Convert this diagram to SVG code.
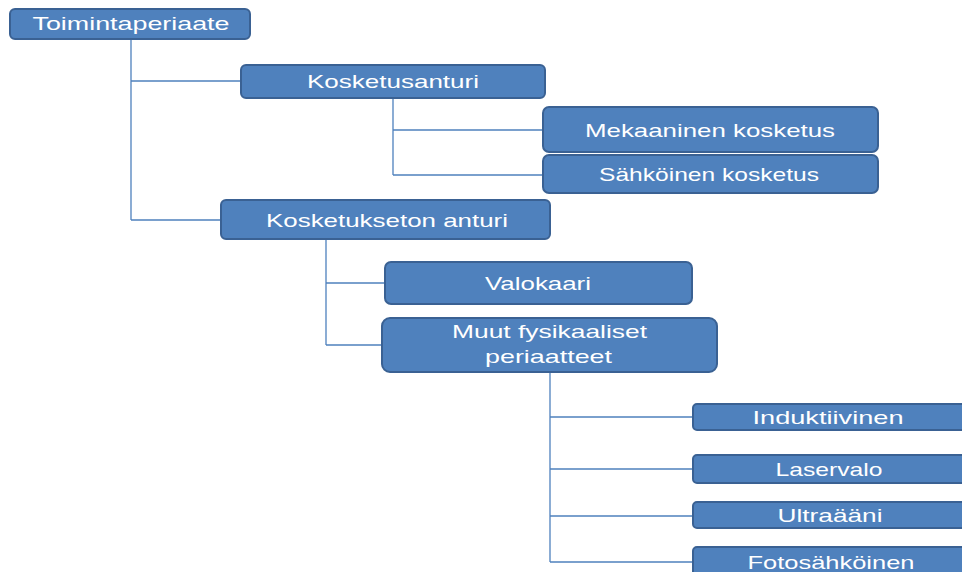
<svg xmlns="http://www.w3.org/2000/svg" width="962" height="572" viewBox="0 0 962 572">
<style>
.n{fill:#4F81BD;stroke:#3A6193;stroke-width:2}
.t{font-family:"Liberation Sans",Arial,sans-serif;font-size:19px;fill:#FFFFFF;text-anchor:middle}
.c{fill:none;stroke:#4F81BD;stroke-width:1.3}
</style>
<rect width="962" height="572" fill="#FFFFFF"/>
<g id="connectors">
<path class="c" d="M131 39V220M131 81H241M131 220H221"/>
<path class="c" d="M393 98V175M393 130H543M393 175H543"/>
<path class="c" d="M326 239V345M326 283H385M326 345H382"/>
<path class="c" d="M550 372V562M550 417H693M550 469H693M550 516H693M550 562H693"/>
</g>
<g id="n1"><rect class="n" x="10" y="9" width="240" height="30" rx="5"/><text class="t" x="131" y="30" textLength="197" lengthAdjust="spacingAndGlyphs">Toimintaperiaate</text></g>
<g id="n2"><rect class="n" x="241" y="65" width="304" height="33" rx="5"/><text class="t" x="393" y="88" textLength="172" lengthAdjust="spacingAndGlyphs">Kosketusanturi</text></g>
<g id="n3"><rect class="n" x="543" y="107" width="335" height="45" rx="6"/><text class="t" x="710" y="137" textLength="250" lengthAdjust="spacingAndGlyphs">Mekaaninen kosketus</text></g>
<g id="n4"><rect class="n" x="543" y="155" width="335" height="38" rx="6"/><text class="t" x="709" y="181" textLength="220" lengthAdjust="spacingAndGlyphs">Sähköinen kosketus</text></g>
<g id="n5"><rect class="n" x="221" y="200" width="329" height="39" rx="5"/><text class="t" x="387" y="227" textLength="242" lengthAdjust="spacingAndGlyphs">Kosketukseton anturi</text></g>
<g id="n6"><rect class="n" x="385" y="262" width="307" height="42" rx="6"/><text class="t" x="538" y="290" textLength="106" lengthAdjust="spacingAndGlyphs">Valokaari</text></g>
<g id="n7"><rect class="n" x="382" y="318" width="335" height="54" rx="8"/><text class="t" x="549.5" y="338" textLength="195" lengthAdjust="spacingAndGlyphs">Muut fysikaaliset</text><text class="t" x="548.5" y="363" textLength="127" lengthAdjust="spacingAndGlyphs">periaatteet</text></g>
<g id="n8"><rect class="n" x="693" y="404" width="275" height="26" rx="4"/><text class="t" x="828" y="424" textLength="151" lengthAdjust="spacingAndGlyphs">Induktiivinen</text></g>
<g id="n9"><rect class="n" x="693" y="455" width="275" height="28" rx="4"/><text class="t" x="829" y="476" textLength="107" lengthAdjust="spacingAndGlyphs">Laservalo</text></g>
<g id="n10"><rect class="n" x="693" y="502" width="275" height="26" rx="4"/><text class="t" x="830" y="522" textLength="105" lengthAdjust="spacingAndGlyphs">Ultraääni</text></g>
<g id="n11"><rect class="n" x="693" y="547" width="275" height="30" rx="4"/><text class="t" x="831" y="569" textLength="167" lengthAdjust="spacingAndGlyphs">Fotosähköinen</text></g>
</svg>
